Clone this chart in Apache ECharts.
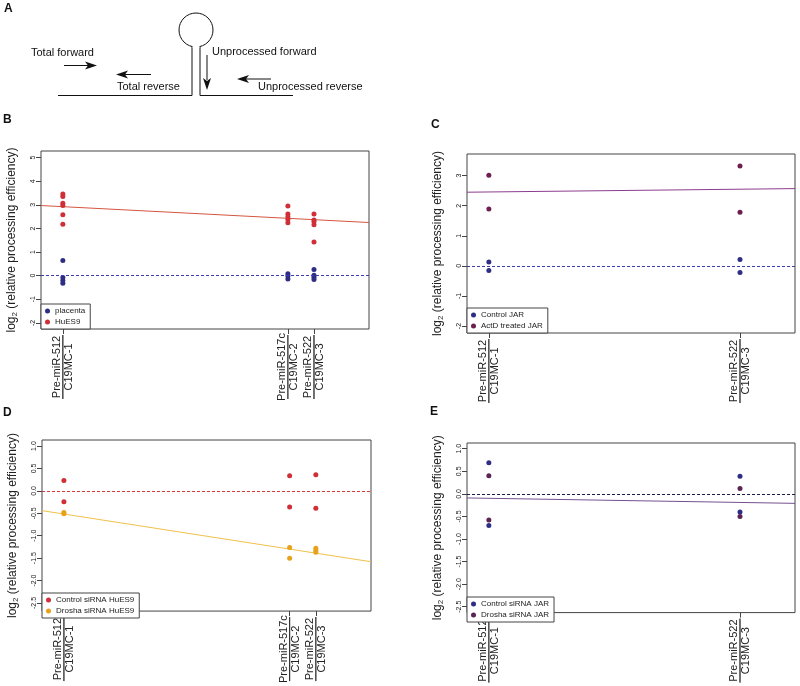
<!DOCTYPE html>
<html>
<head>
<meta charset="utf-8">
<script src="https://cdn.jsdelivr.net/npm/echarts@6/dist/echarts.min.js"></script>
<style>
  html, body { margin: 0; padding: 0; background: #fff; }
  #chart { width: 800px; height: 686px; }
</style>
</head>
<body>
<div id="chart"></div>
<script>
// precursor / cluster labels and their relative positions on the x axis
var premirs = ['Pre-miR-512', 'Pre-miR-517c', 'Pre-miR-522'];
var clusters = ['C19MC-1', 'C19MC-2', 'C19MC-3'];
var sitePos = [0, 0.896, 1];
var xMin = -0.087, xMax = 1.219;

// B: placenta vs HuES9 (one inner array per site)
var placentaB = [[0.64, -0.08, -0.21, -0.32], [0.08, -0.01, -0.14], [0.26, 0.02, -0.07, -0.16]];
var hues9B = [[3.46, 3.35, 3.07, 2.97, 2.58, 2.18], [2.95, 2.61, 2.50, 2.38, 2.24], [2.61, 2.36, 2.28, 2.16, 1.42]];
var fitB = [2.97, 2.25];

// C: control JAR vs ActD treated JAR (sites 512, 522)
var controlC = [[0.13, -0.15], [0.21, -0.22]];
var actdC = [[3.01, 1.89], [3.32, 1.78]];
var fitC = [2.45, 2.57];

// D: control vs Drosha siRNA HuES9
var controlD = [[0.23, -0.24], [0.34, -0.36], [0.36, -0.385]];
var droshaD = [[-0.48, -0.51], [-1.26, -1.50], [-1.28, -1.33, -1.37]];
var fitD = [-0.44, -1.58];

// E: control vs Drosha siRNA JAR (sites 512, 522)
var controlE = [[0.69, -0.70], [0.39, -0.40]];
var droshaE = [[0.40, -0.58], [0.12, -0.50]];
var fitE = [-0.09, -0.21];

var ticksB = [-2, -1, 0, 1, 2, 3, 4, 5];
var ticksC = [-2, -1, 0, 1, 2, 3];
var ticksDE = [-2.5, -2.0, -1.5, -1.0, -0.5, 0.0, 0.5, 1.0];

var font = 'Liberation Sans, Arial, Helvetica, sans-serif';
var ink = '#222';
var frame = '#444';

function points(groups, sites) {
    var out = [];
    groups.forEach(function(vals, i) {
        vals.forEach(function(v) {
            out.push([sitePos[sites[i]], v]);
        });
    });
    return out;
}

function xAxisFor(g, sites) {
    var vals = sites.map(function(s) { return sitePos[s]; });
    return {
        gridIndex: g, type: 'value', min: xMin, max: xMax,
        axisLine: { show: false, onZero: false }, splitLine: { show: false },
        axisTick: { show: true, length: 5, customValues: vals, lineStyle: { color: frame } },
        axisLabel: {
            customValues: vals, rotate: 90, margin: 6, color: ink,
            formatter: function(v) {
                var k = 0;
                sitePos.forEach(function(p, i) { if (Math.abs(p - v) < 1e-6) k = i; });
                return '{a|' + premirs[k] + '}\n{hr|}\n{a|' + clusters[k] + '}';
            },
            rich: {
                a: { fontSize: 11, lineHeight: 11, width: 64, align: 'center', color: ink, fontFamily: font },
                hr: { width: '100%', height: 0, borderColor: ink, borderWidth: 0.8, lineHeight: 1 }
            }
        }
    };
}

function yAxisFor(g, min, max, ticks, digits, gap) {
    return {
        gridIndex: g, type: 'value', min: min, max: max,
        axisLine: { show: false, onZero: false }, splitLine: { show: false },
        axisTick: { show: true, length: 5, customValues: ticks, lineStyle: { color: frame } },
        axisLabel: {
            customValues: ticks, rotate: 90, margin: 4, fontSize: 7, color: ink,
            formatter: function(v) { return v.toFixed(digits); }
        },
        name: '{a|log}{s|2}{a| (relative processing efficiency)}',
        nameLocation: 'middle', nameGap: gap, nameRotate: 90,
        nameTextStyle: {
            rich: {
                a: { fontSize: 12, color: ink, fontFamily: font },
                s: { fontSize: 8, color: ink, fontFamily: font, padding: [6, 0, 0, 0] }
            }
        }
    };
}

function legendFor(left, bottom, names) {
    return {
        left: left, bottom: bottom, orient: 'vertical', data: names,
        icon: 'circle', itemWidth: 5, itemHeight: 5, itemGap: 3,
        padding: [3, 5, 3, 4], borderColor: frame, borderWidth: 1, backgroundColor: '#fff',
        textStyle: { fontSize: 8, color: ink, fontFamily: font }
    };
}

function dots(name, g, data, color) {
    return { name: name, type: 'scatter', xAxisIndex: g, yAxisIndex: g, data: data,
             symbolSize: 5, itemStyle: { color: color, opacity: 1 }, z: 4 };
}

function zeroLine(g, color) {
    return { name: 'zero' + g, type: 'line', xAxisIndex: g, yAxisIndex: g, data: [],
             markLine: { silent: true, symbol: 'none', label: { show: false },
                         lineStyle: { color: color, type: [3, 2], width: 1 },
                         data: [{ yAxis: 0 }] } };
}

function fitLine(g, fit, color) {
    return { name: 'fit' + g, type: 'line', xAxisIndex: g, yAxisIndex: g,
             data: [[xMin, fit[0]], [xMax, fit[1]]], showSymbol: false,
             lineStyle: { color: color, width: 1 }, z: 3 };
}

var arrowHead = function(pts) {
    return { type: 'polygon', shape: { points: pts }, style: { fill: '#111' } };
};
var seg = function(x1, y1, x2, y2, w) {
    return { type: 'line', shape: { x1: x1, y1: y1, x2: x2, y2: y2 }, style: { stroke: '#111', lineWidth: w || 1 } };
};
var label = function(x, y, t, size, bold) {
    return { type: 'text', x: x, y: y, style: { text: t, fontSize: size, fontWeight: bold ? 'bold' : 'normal',
             fill: '#111', fontFamily: font, verticalAlign: 'middle' } };
};

var chart = echarts.init(document.getElementById('chart'));
chart.setOption({
    animation: false,
    textStyle: { fontFamily: font },
    graphic: [
        label(4, 9, 'A', 12, true),
        label(3, 120, 'B', 12, true),
        label(431, 125, 'C', 12, true),
        label(3, 413, 'D', 12, true),
        label(430, 412, 'E', 12, true),
        // panel A hairpin diagram
        seg(58, 95.5, 192, 95.5),
        seg(192, 95.5, 192, 46),
        seg(200, 95.5, 200, 46),
        seg(200, 95.5, 293, 95.5),
        { type: 'circle', shape: { cx: 196, cy: 30, r: 17 }, style: { fill: '#fff', stroke: '#111', lineWidth: 1 } },
        { type: 'rect', shape: { x: 192.6, y: 42, width: 6.8, height: 6 }, style: { fill: '#fff' } },
        label(31, 53, 'Total forward', 11),
        seg(64, 65.5, 88, 65.5),
        arrowHead([[97, 65.5], [85, 61.5], [88, 65.5], [85, 69.5]]),
        label(117, 87, 'Total reverse', 11),
        seg(151, 74.5, 125, 74.5),
        arrowHead([[116, 74.5], [128, 70.5], [125, 74.5], [128, 78.5]]),
        label(212, 52, 'Unprocessed forward', 11),
        seg(207, 55, 207, 80),
        arrowHead([[207, 90], [203, 78], [207, 81], [211, 78]]),
        label(258, 87, 'Unprocessed reverse', 11),
        seg(271, 79, 246, 79),
        arrowHead([[237, 79], [249, 75], [246, 79], [249, 83]])
    ],
    grid: [
        { left: 41, top: 151, width: 328, height: 178, show: true, borderColor: frame, borderWidth: 1, backgroundColor: 'transparent' },
        { left: 467, top: 154, width: 328, height: 179, show: true, borderColor: frame, borderWidth: 1, backgroundColor: 'transparent' },
        { left: 42, top: 440, width: 329, height: 178, show: true, borderColor: frame, borderWidth: 1, backgroundColor: 'transparent' },
        { left: 467, top: 443, width: 328, height: 179, show: true, borderColor: frame, borderWidth: 1, backgroundColor: 'transparent' }
    ],
    xAxis: [
        xAxisFor(0, [0, 1, 2]),
        xAxisFor(1, [0, 2]),
        xAxisFor(2, [0, 1, 2]),
        xAxisFor(3, [0, 2])
    ],
    yAxis: [
        yAxisFor(0, -2.26, 5.28, ticksB, 0, 22),
        yAxisFor(1, -2.23, 3.72, ticksC, 0, 22),
        yAxisFor(2, -2.68, 1.135, ticksDE, 1, 22),
        yAxisFor(3, -2.63, 1.127, ticksDE, 1, 22)
    ],
    legend: [
        legendFor(41, 686 - 329, ['placenta', 'HuES9']),
        legendFor(467, 686 - 333, ['Control JAR', 'ActD treated JAR']),
        legendFor(42, 686 - 618, ['Control siRNA HuES9', 'Drosha siRNA HuES9']),
        legendFor(467, 686 - 622, ['Control siRNA JAR', 'Drosha siRNA JAR'])
    ],
    series: [
        zeroLine(0, '#3d3db0'),
        fitLine(0, fitB, '#d4553f'),
        dots('placenta', 0, points(placentaB, [0, 1, 2]), '#2e2e86'),
        dots('HuES9', 0, points(hues9B, [0, 1, 2]), '#cf2f37'),

        zeroLine(1, '#3d3db0'),
        fitLine(1, fitC, '#8b3c8e'),
        dots('Control JAR', 1, points(controlC, [0, 2]), '#2e2e86'),
        dots('ActD treated JAR', 1, points(actdC, [0, 2]), '#6e1f4f'),

        zeroLine(2, '#d63b3b'),
        fitLine(2, fitD, '#f0c04a'),
        dots('Control siRNA HuES9', 2, points(controlD, [0, 1, 2]), '#cf2f37'),
        dots('Drosha siRNA HuES9', 2, points(droshaD, [0, 1, 2]), '#e6a21a'),

        zeroLine(3, '#1c1c4a'),
        fitLine(3, fitE, '#74508f'),
        dots('Control siRNA JAR', 3, points(controlE, [0, 2]), '#2e2e86'),
        dots('Drosha siRNA JAR', 3, points(droshaE, [0, 2]), '#5b2452')
    ]
});
</script>
</body>
</html>
